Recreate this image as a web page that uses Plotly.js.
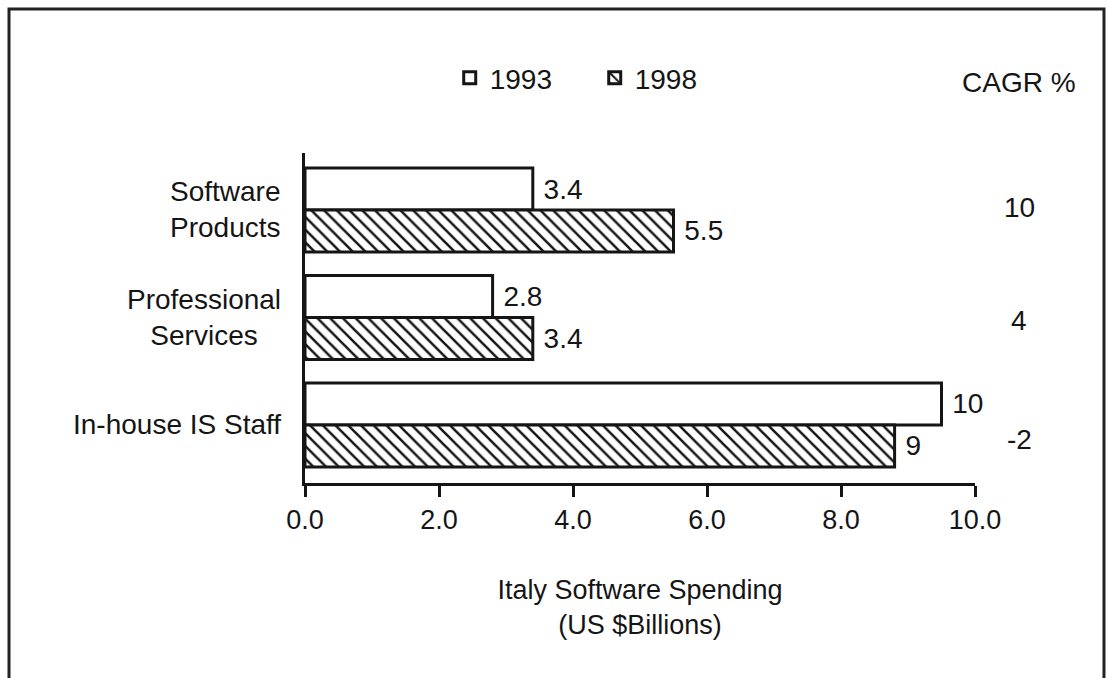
<!DOCTYPE html>
<html><head><meta charset="utf-8">
<script src="https://cdn.plot.ly/plotly-3.0.1.min.js"></script>
<style>html,body{margin:0;padding:0;background:#fff}#chart{width:1107px;height:678px}</style>
</head><body><div id="chart"></div>
<script>
const categories = ['Software Products', 'Professional Services', 'In-house IS Staff'];
const categoryLabels = ['Software<br>Products', 'Professional<br>Services', 'In-house IS Staff'];
const seriesNames = ['1993', '1998'];
const spending1993 = [3.4, 2.8, 9.5];
const spending1998 = [5.5, 3.4, 8.8];
const labels1993 = ['3.4', '2.8', '10'];
const labels1998 = ['5.5', '3.4', '9'];
const cagrHeader = 'CAGR %';
const cagrValues = ['10', '4', '-2'];
const xTicks = [0, 2, 4, 6, 8, 10];
const xTickLabels = ['0.0', '2.0', '4.0', '6.0', '8.0', '10.0'];
const xTitle = 'Italy Software Spending<br>(US $Billions)';

const FONT = 'Liberation Sans, Arial, Helvetica, sans-serif';
const INK = '#151515';
const NB = '\u00a0';

const traces = [
  {
    type: 'bar', orientation: 'h', name: seriesNames[0],
    y: categories, x: spending1993,
    text: labels1993.map(s => NB + s), textposition: 'outside',
    constraintext: 'none', cliponaxis: false,
    textfont: {family: FONT, size: 28, color: INK},
    marker: {color: '#ffffff', line: {color: INK, width: 3}},
    hoverinfo: 'skip'
  },
  {
    type: 'bar', orientation: 'h', name: seriesNames[1],
    y: categories, x: spending1998,
    text: labels1998.map(s => NB + s), textposition: 'outside',
    constraintext: 'none', cliponaxis: false,
    textfont: {family: FONT, size: 28, color: INK},
    marker: {color: '#ffffff', line: {color: INK, width: 3},
      pattern: {shape: '\\', fgcolor: INK, bgcolor: '#ffffff', size: 9, solidity: 0.28}},
    hoverinfo: 'skip'
  }
];

const annotations = [];
categories.forEach((c, i) => {
  annotations.push({
    xref: 'paper', yref: 'y', x: -0.033, y: c, xanchor: 'right', yanchor: 'middle',
    text: categoryLabels[i], align: 'center', showarrow: false,
    font: {family: FONT, size: 28, color: INK}
  });
});
const cagrShift = [2, -3, -15];
categories.forEach((c, i) => {
  annotations.push({
    xref: 'paper', yref: 'y', x: 1.0657, y: c, xanchor: 'center', yanchor: 'middle',
    yshift: cagrShift[i],
    text: cagrValues[i], showarrow: false,
    font: {family: FONT, size: 28, color: INK}
  });
});
annotations.push({
  xref: 'paper', yref: 'paper', x: 1.0657, y: 1.215, xanchor: 'center', yanchor: 'middle',
  text: cagrHeader, showarrow: false, font: {family: FONT, size: 28, color: INK}
});

const layout = {
  width: 1107, height: 678,
  margin: {l: 305, r: 132, t: 153, b: 195, pad: 0},
  paper_bgcolor: '#ffffff', plot_bgcolor: '#ffffff',
  font: {family: FONT, size: 28, color: INK},
  barmode: 'group', bargap: 0.22, bargroupgap: 0,
  showlegend: true,
  legend: {
    orientation: 'h', x: 0.216, xanchor: 'left', y: 1.227, yanchor: 'middle',
    font: {family: FONT, size: 28, color: INK}, entrywidth: 100, entrywidthmode: 'pixels',
    bgcolor: 'rgba(0,0,0,0)', traceorder: 'normal'
  },
  xaxis: {
    range: [0, 10], tickvals: xTicks, ticktext: xTickLabels,
    ticks: 'outside', ticklen: 11, tickwidth: 3, tickcolor: INK,
    showline: true, linewidth: 3, linecolor: INK,
    showgrid: false, zeroline: false, automargin: false,
    tickfont: {family: FONT, size: 27, color: INK},
    title: {text: xTitle, font: {family: FONT, size: 27, color: INK}, standoff: 46}
  },
  yaxis: {
    type: 'category', range: [2.54, -0.53],
    showline: true, linewidth: 3, linecolor: INK,
    ticks: '', showticklabels: false, showgrid: false, zeroline: false, automargin: false
  },
  annotations: annotations,
  shapes: [{
    type: 'path', xref: 'paper', yref: 'paper',
    path: 'M -0.4418,-0.7 L -0.4418,1.4364 L 1.1925,1.4364 L 1.1925,-0.7',
    line: {color: '#222', width: 3}
  }]
};

Plotly.newPlot('chart', traces, layout, {staticPlot: true, displayModeBar: false});
</script>
</body></html>
